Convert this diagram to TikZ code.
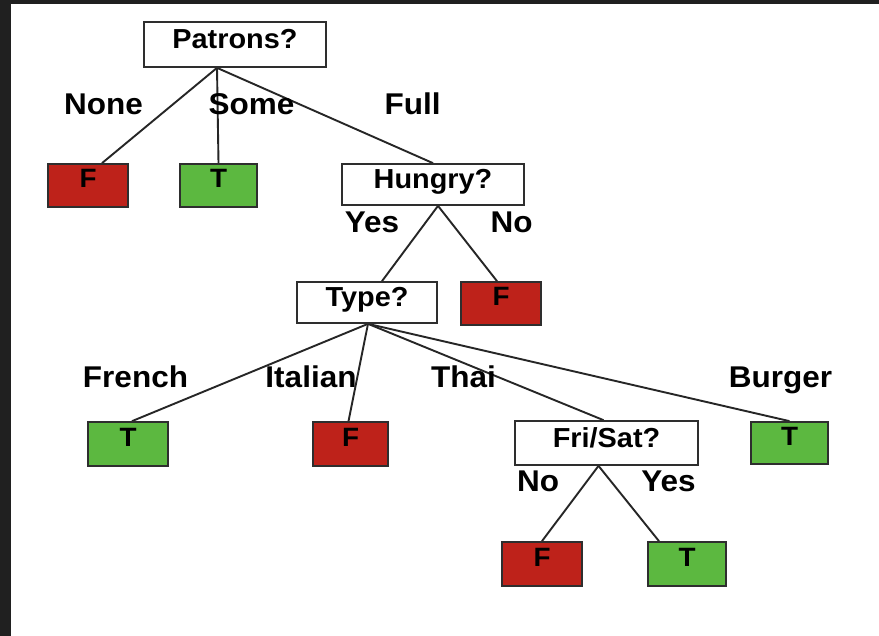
\documentclass[tikz,border=0pt]{standalone}
\usepackage{fontspec}
\setmainfont{Liberation Sans}[FakeStretch=1.05]
\pgfdeclarelayer{bg}
\pgfdeclarelayer{edges}
\pgfsetlayers{bg,edges,main}
\definecolor{framecol}{HTML}{202020}
\definecolor{boxline}{HTML}{2E2E2E}
\definecolor{edgecol}{HTML}{262626}
\definecolor{fred}{RGB}{190,34,26}
\definecolor{tgreen}{RGB}{92,184,64}
\newcommand{\labfont}{\fontsize{30}{36}\selectfont\bfseries}
\newcommand{\boxfont}{\fontsize{27.5}{32}\selectfont\bfseries}
\newcommand{\leaffont}{\fontsize{26.5}{31}\selectfont\bfseries}
\begin{document}
\begin{tikzpicture}[x=1pt,y=-1pt,
  split/.style={draw=boxline, line width=1.7pt, fill=white, inner sep=0pt,
    minimum height=43pt, text height=18pt, text depth=9.7pt, font=\boxfont},
  leaf/.style={draw=boxline, line width=1.7pt, inner sep=0pt,
    minimum width=78pt, minimum height=43pt, text height=16pt, text depth=11.4pt,
    font=\leaffont},
  falseleaf/.style={leaf, fill=fred},
  trueleaf/.style={leaf, fill=tgreen},
  branch/.style={draw=edgecol, line width=1.9pt},
  lab/.style={anchor=base, inner sep=0pt, font=\labfont}]

\useasboundingbox (0,0) rectangle (879,636);
\begin{pgfonlayer}{bg}
  \fill[framecol] (0,0) rectangle (879,636);
  \fill[white] (11,4) rectangle (879,636);
\end{pgfonlayer}

% decision nodes
\node[split, minimum width=182pt, minimum height=45pt] (pat) at (235,44.5) {Patrons?};
\node[split, minimum width=182pt, minimum height=41pt] (hun) at (433,184.5) {Hungry?};
\node[split, minimum width=140pt, minimum height=41pt] (typ) at (367,302.5) {Type?};
\node[split, minimum width=183pt, minimum height=44pt] (fri) at (606.5,443) {Fri/Sat?};

% leaves
\node[falseleaf, minimum width=80pt] (none) at (88,185.5) {F};
\node[trueleaf, minimum width=77pt] (some) at (218.5,185.5) {T};
\node[falseleaf, minimum width=80pt] (hno) at (501,303.5) {F};
\node[trueleaf, minimum width=80pt, minimum height=44pt] (fre) at (128,444) {T};
\node[falseleaf, minimum width=75pt, minimum height=44pt] (ita) at (350.5,444) {F};
\node[trueleaf, minimum width=77pt, minimum height=42pt] (bur) at (789.5,443) {T};
\node[falseleaf, minimum width=80pt, minimum height=44pt] (fno) at (542,564) {F};
\node[trueleaf, minimum width=78pt, minimum height=44pt] (fyes) at (687,564) {T};

% branches
\begin{pgfonlayer}{edges}
  \coordinate (patout) at ([xshift=-18pt]pat.south);
  \draw[branch] (patout) -- ([xshift=14pt]none.north);
  \draw[branch] (patout) -- (some.north);
  \draw[branch] (patout) -- (hun.north);
  \coordinate (hunout) at ([xshift=5pt]hun.south);
  \draw[branch] (hunout) -- ([xshift=15pt]typ.north);
  \draw[branch] (hunout) -- ([xshift=-4pt]hno.north);
  \coordinate (typout) at ([xshift=1pt]typ.south);
  \draw[branch] (typout) -- ([xshift=4pt]fre.north);
  \draw[branch] (typout) -- ([xshift=-2pt]ita.north);
  \draw[branch] (typout) -- ([xshift=-3pt]fri.north);
  \draw[branch] (typout) -- (bur.north);
  \coordinate (friout) at ([xshift=-8pt]fri.south);
  \draw[branch] (friout) -- (fno.north);
  \draw[branch] (friout) -- ([xshift=-28pt]fyes.north);
\end{pgfonlayer}

% branch labels
\node[lab] (lnone) at (103.5,114.5) {None};
\node[lab] (lsome) at (251.5,114.5) {Some};
\node[lab] (lfull) at (412.5,114.5) {Full};
\node[lab] (lhyes) at (372,233) {Yes};
\node[lab] (lhno) at (511.5,233) {No};
\node[lab] (lfre) at (135.5,388) {French};
\node[lab] (lita) at (311,388) {Italian};
\node[lab] (ltha) at (463.5,388) {Thai};
\node[lab] (lbur) at (780.5,388) {Burger};
\node[lab] (lfno) at (538,492) {No};
\node[lab] (lfyes) at (668.5,492) {Yes};
\end{tikzpicture}
\end{document}
